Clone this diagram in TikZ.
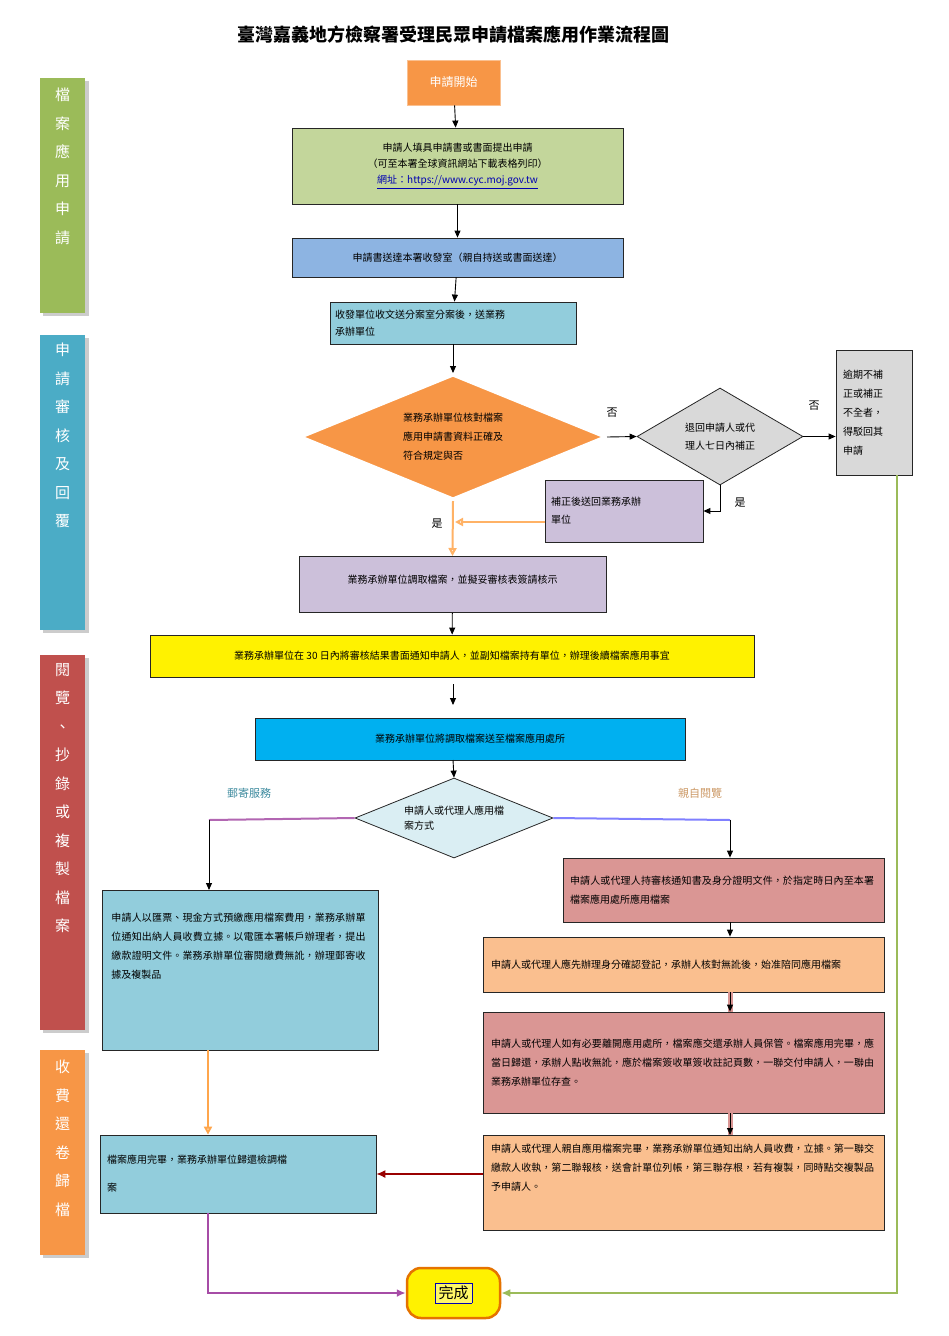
\documentclass[tikz,border=0pt]{standalone}
\usepackage{fontspec}
\setmainfont{Noto Sans CJK TC}
\XeTeXlinebreaklocale "zh"
\XeTeXlinebreakskip=0pt plus 1pt
\usetikzlibrary{shapes.geometric,arrows.meta,positioning}
\definecolor{cgreen}{HTML}{C3D69B}
\definecolor{cblue}{HTML}{8DB4E2}
\definecolor{ccyan}{HTML}{92CDDC}
\definecolor{corange}{HTML}{F79646}
\definecolor{cgray}{HTML}{D9D9D9}
\definecolor{cpurple}{HTML}{CCC0DA}
\definecolor{cbright}{HTML}{00B0F0}
\definecolor{cdia}{HTML}{DAEEF3}
\definecolor{cpink}{HTML}{DA9694}
\definecolor{clight}{HTML}{FABF8F}
\definecolor{barg}{HTML}{9BBB59}
\definecolor{barc}{HTML}{4BACC6}
\definecolor{barr}{HTML}{C0504D}
\begin{document}
\begin{tikzpicture}[x=1pt,y=-1pt,
  box/.style={draw=black!85,line width=0.8pt,inner sep=4pt,font=\fontsize{10}{16}\selectfont},
  bar/.style={minimum width=45pt,text=white,font=\fontsize{15}{28.5}\selectfont,align=center,inner sep=0pt},
  arr/.style={-{Triangle[length=7pt,width=6pt]},line width=0.9pt},
  lab/.style={font=\fontsize{11}{13}\selectfont}]
\useasboundingbox (0,0) rectangle (948,1336);
\fill[white] (0,0) rectangle (948,1336);
\node[font=\bfseries\fontsize{18}{20}\selectfont] (title) at (453,35) {臺灣嘉義地方檢察署受理民眾申請檔案應用作業流程圖};
% side bars
\foreach \c/\a/\b in {barg/78/313, barc/335/630, barr/655/1030, corange/1050/1255}{
  \fill[black!20] (43,\a+3) rectangle (89,\b+3);
  \fill[\c] (40,\a) rectangle (85,\b);
}
\node[bar,anchor=north] (b1) at (62.5,88) {檔\\案\\應\\用\\申\\請};
\node[bar,anchor=north] (b2) at (62.5,343) {申\\請\\審\\核\\及\\回\\覆};
\node[bar,anchor=north] (b3) at (62.5,663) {閱\\覽\\、\\抄\\錄\\或\\複\\製\\檔\\案};
\node[bar,anchor=north] (b4) at (62.5,1060) {收\\費\\還\\卷\\歸\\檔};
% nodes
\node[box,fill=corange,text=white,draw=corange!60,minimum width=93pt,minimum height=45pt,font=\fontsize{12}{14}\selectfont] (s) at (453.5,82.5) {申請開始};
\node[box,fill=cgreen,minimum width=331pt,minimum height=76pt,align=center] (n1) at (457.5,166) {申請人填具申請書或書面提出申請\\（可至本署全球資訊網站下載表格列印）\\\textcolor{blue!70!black}{\underline{網址：https://www.cyc.moj.gov.tw}}};
\node[box,fill=cblue,minimum width=331pt,minimum height=39pt] (n2) at (457.5,257.5) {申請書送達本署收發室（親自持送或書面送達）};
\node[box,fill=ccyan,minimum width=246pt,minimum height=42pt,text width=236pt,align=left,font=\fontsize{10}{17}\selectfont] (n3) at (453,323) {收發單位收文送分案室分案後，送業務\\承辦單位};
\node[diamond,draw=white,line width=3pt,fill=corange,minimum width=305pt,minimum height=125pt,inner sep=0pt,aspect=2.45,align=left,font=\fontsize{10}{19}\selectfont] (d1) at (453,437) {業務承辦單位核對檔案\\應用申請書資料正確及\\符合規定與否};
\node[diamond,draw=black!85,line width=0.8pt,fill=cgray,minimum width=166pt,minimum height=97pt,inner sep=0pt,aspect=1.7,align=center,font=\fontsize{10}{18}\selectfont] (d2) at (720,436.5) {退回申請人或代\\理人七日內補正};
\node[box,fill=cgray,minimum width=76pt,minimum height=125pt,text width=62pt,align=left,font=\fontsize{10}{19}\selectfont] (g) at (874,412.5) {逾期不補\\正或補正\\不全者，\\得駁回其\\申請};
\node[box,fill=cpurple,minimum width=158pt,minimum height=62pt,text width=146pt,align=left,font=\fontsize{10}{18}\selectfont] (p1) at (624,511) {補正後送回業務承辦\\單位};
\node[box,fill=cpurple,minimum width=307pt,minimum height=56pt,anchor=north] (p2) at (452.5,556) {\raisebox{10pt}{業務承辦單位調取檔案，並擬妥審核表簽請核示}};
\node[box,fill=yellow,minimum width=604pt,minimum height=42pt] (y) at (452,656) {業務承辦單位在 30 日內將審核結果書面通知申請人，並副知檔案持有單位，辦理後續檔案應用事宜};
\node[box,fill=cbright,minimum width=430pt,minimum height=42pt] (bb) at (470,739) {業務承辦單位將調取檔案送至檔案應用處所};
\node[diamond,draw=black!85,line width=0.8pt,fill=cdia,minimum width=198pt,minimum height=80pt,inner sep=0pt,aspect=2.5,align=left,font=\fontsize{10}{15}\selectfont] (d3) at (454,818) {申請人或代理人應用檔\\案方式};
\node[box,fill=ccyan,minimum width=276pt,minimum height=160pt,text width=258pt,align=left,anchor=north west,font=\fontsize{10}{19}\selectfont] (L1) at (102,890) {申請人以匯票、現金方式預繳應用檔案費用，業務承辦單位通知出納人員收費立據。以電匯本署帳戶辦理者，提出繳款證明文件。業務承辦單位審閱繳費無訛，辦理郵寄收據及複製品\\[30pt]\mbox{}};
\node[box,fill=cpink,minimum width=321pt,minimum height=64pt,text width=307pt,align=left,font=\fontsize{10}{19}\selectfont] (R1) at (723.5,890) {申請人或代理人持審核通知書及身分證明文件，於指定時日內至本署檔案應用處所應用檔案};
\node[box,fill=clight,minimum width=401pt,minimum height=55pt,text width=385pt,align=left,font=\fontsize{10}{19}\selectfont] (R2) at (683.5,964.5) {申請人或代理人應先辦理身分確認登記，承辦人核對無訛後，始准陪同應用檔案};
\node[box,fill=cpink,minimum width=401pt,minimum height=101pt,text width=385pt,align=left,font=\fontsize{10}{19}\selectfont] (R3) at (683.5,1062.5) {申請人或代理人如有必要離開應用處所，檔案應交還承辦人員保管。檔案應用完畢，應當日歸還，承辦人點收無訛，應於檔案簽收單簽收註記頁數，一聯交付申請人，一聯由業務承辦單位存查。};
\node[box,fill=clight,minimum width=401pt,minimum height=95pt,text width=385pt,align=left,anchor=north,font=\fontsize{10}{19}\selectfont] (R4) at (683.5,1135) {申請人或代理人親自應用檔案完畢，業務承辦單位通知出納人員收費，立據。第一聯交繳款人收執，第二聯報核，送會計單位列帳，第三聯存根，若有複製，同時點交複製品予申請人。\\[12pt]\mbox{}};
\node[box,fill=ccyan,minimum width=276pt,minimum height=78pt,text width=262pt,align=left,font=\fontsize{10}{28}\selectfont] (L2) at (238,1174) {檔案應用完畢，業務承辦單位歸還檢調檔\\案};
\node[draw=orange!90!black,line width=2.5pt,fill=yellow,rounded corners=14pt,minimum width=93pt,minimum height=50pt,font=\fontsize{15}{17}\selectfont] (e) at (453.5,1293) {\fcolorbox{blue!70!black}{yellow!60!white}{完成}};
% labels
\node[lab] (no1) at (612,413) {否};
\node[lab] (no2) at (814,406) {否};
\node[lab] (yes1) at (740,503) {是};
\node[lab] (yes2) at (437,524) {是};
\node[lab,text=barc!80!black] (m1) at (249,793) {郵寄服務};
\node[lab,text=brown!80] (m2) at (700,793) {親自閱覽};
% arrows
\draw[arr] (s) -- (n1);
\draw[arr] (n1) -- (n2);
\draw[arr] (n2) -- (n3);
\draw[arr] (n3) -- (d1);
\draw[arr] (d1.east) -- (d2.west);
\draw[arr] (d2.east) -- (d2.east -| g.west);
\draw[arr] (d2.south) |- (p1.east);
\draw[-{Triangle[open,length=8pt,width=8pt]},orange!60,line width=2pt] (p1.west |- {(0,522)}) -- (455,522);
\draw[-{Triangle[open,length=8pt,width=8pt]},orange!60,line width=2pt] (d1.south) -- (p2.north);
\draw[arr] (p2) -- (y);
\draw[arr] (453,684) -- (453,705);
\draw[arr] (453,760) -- (d3.north);
\draw[line width=2pt,violet!60] (d3.west) -- (209,820);
\draw[arr] (209,820) -- (L1.north -| 209,0);
\draw[line width=2pt,blue!50] (d3.east) -- (730,820);
\draw[arr] (730,820) -- (R1.north -| 730,0);
\draw[arr] (R1.south -| 730,0) -- (R2.north -| 730,0);
\draw[line width=5pt,cpink] (R2.south -| 730,0) -- (R3.north -| 730,0);
\draw[arr] (R2.south -| 730,0) -- (R3.north -| 730,0);
\draw[line width=5pt,cpink] (R3.south -| 730,0) -- (R4.north -| 730,0);
\draw[arr] (R3.south -| 730,0) -- (R4.north -| 730,0);
\draw[-{Triangle[open,length=8pt,width=8pt]},orange!70,line width=2pt] (208,1050) -- (L2.north -| 208,0);
\draw[-{Latex[length=9pt,width=8pt]},red!60!black,line width=1.2pt] (R4.west |- L2.east) -- (L2.east);
\draw[-{Latex[length=9pt,width=8pt]},violet!70,line width=2pt] (L2.south -| 208,0) |- (e.west);
\draw[-{Latex[length=9pt,width=8pt]},barg,line width=2.5pt] (g.south -| 897,0) |- (e.east);
\end{tikzpicture}
\end{document}
